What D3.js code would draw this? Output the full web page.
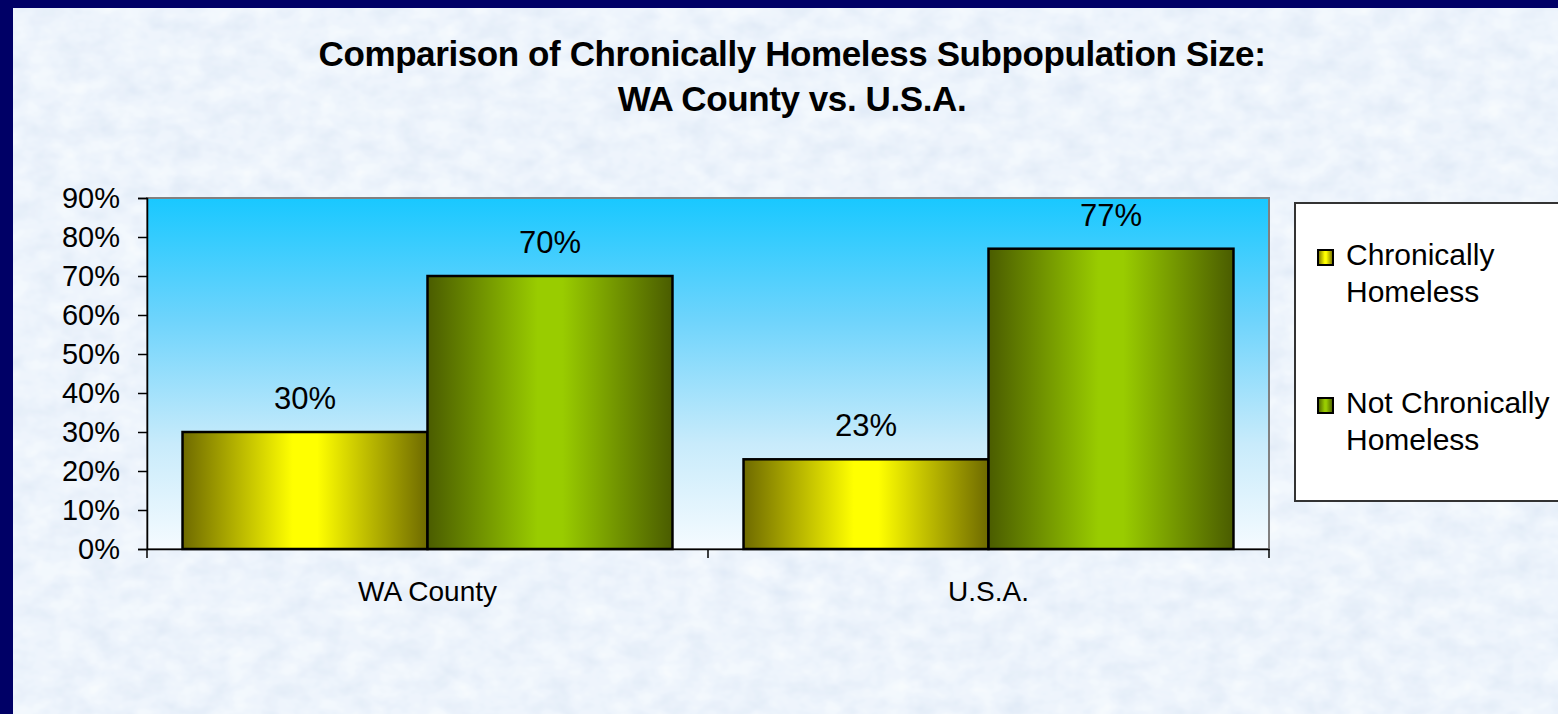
<!DOCTYPE html>
<html>
<head>
<meta charset="utf-8">
<script src="https://cdn.jsdelivr.net/npm/d3@7"></script>
<style>
  html, body { margin: 0; padding: 0; overflow: hidden; background: #000066; }
  text { font-family: Arial, "Liberation Sans", sans-serif; fill: #000; }
</style>
</head>
<body>
<div id="chart"></div>
<script>
'use strict';

// data
const categories = ['WA County', 'U.S.A.'];
const seriesNames = ['Chronically Homeless', 'Not Chronically Homeless'];
const chronic = [0.30, 0.23];
const notChronic = [0.70, 0.77];
const yTicks = [0, 0.1, 0.2, 0.3, 0.4, 0.5, 0.6, 0.7, 0.8, 0.9];
const titleLines = ['Comparison of Chronically Homeless Subpopulation Size:', 'WA County vs. U.S.A.'];
const legendLines = [['Chronically', 'Homeless'], ['Not Chronically', 'Homeless']];

const width = 1558, height = 714,
    plot = {left: 147, right: 1269, top: 198, bottom: 549},
    fmt = d3.format('.0%');

const svg = d3.select('#chart').append('svg')
    .attr('width', width)
    .attr('height', height);

const defs = svg.append('defs');

// marbled slide background
const tex = defs.append('filter').attr('id', 'marble')
    .attr('x', 0).attr('y', 0).attr('width', 1).attr('height', 1);
tex.append('feTurbulence')
    .attr('type', 'fractalNoise')
    .attr('baseFrequency', '0.035 0.05')
    .attr('numOctaves', 3)
    .attr('seed', 7)
    .attr('result', 'noise');
tex.append('feColorMatrix')
    .attr('in', 'noise')
    .attr('type', 'matrix')
    .attr('values', '0 0 0 -0.26 1.0  0 0 0 -0.2 1.02  0 0 0 -0.1 1.03  0 0 0 0 1');

function hGrad(id, edge, mid) {
    const g = defs.append('linearGradient').attr('id', id)
        .attr('x1', 0).attr('x2', 1).attr('y1', 0).attr('y2', 0);
    [[0, edge], [0.45, mid], [0.55, mid], [1, edge]].forEach(([o, c]) => {
        g.append('stop').attr('offset', o).attr('stop-color', c);
    });
}
hGrad('gradYellow', '#6e6a00', '#ffff00');
hGrad('gradGreen', '#4a5c00', '#99cc00');

const plotGrad = defs.append('linearGradient').attr('id', 'plotBg')
    .attr('x1', 0).attr('x2', 0).attr('y1', 0).attr('y2', 1);
[[0, '#19c8ff'], [0.35, '#6fd4fc'], [0.7, '#c8ebfb'], [1, '#f5fbff']].forEach(([o, c]) => {
    plotGrad.append('stop').attr('offset', o).attr('stop-color', c);
});

svg.append('rect')
    .attr('x', 0).attr('y', 0).attr('width', width).attr('height', height)
    .attr('fill', '#000066');
svg.append('rect')
    .attr('x', 13).attr('y', 8).attr('width', width - 13).attr('height', height - 8)
    .attr('fill', '#e2ecf8');
svg.append('rect')
    .attr('x', 13).attr('y', 8).attr('width', width - 13).attr('height', height - 8)
    .attr('filter', 'url(#marble)')
    .attr('opacity', 0.8);

// title
const title = svg.append('text')
    .attr('x', 792)
    .attr('text-anchor', 'middle')
    .style('font-weight', 'bold')
    .style('font-size', '35px')
    .style('letter-spacing', '-0.4px');
titleLines.forEach((t, i) => {
    title.append('tspan').attr('x', 792).attr('y', 66 + i * 45).text(t);
});

// scales
const x0 = d3.scaleBand()
    .domain(categories)
    .range([plot.left, plot.right])
    .padding(0);

const x1 = d3.scaleBand()
    .domain(seriesNames)
    .range([0, x0.bandwidth()])
    .paddingInner(0)
    .paddingOuter(0.145);

const y = d3.scaleLinear()
    .domain([0, 0.9])
    .range([plot.bottom, plot.top]);

// plot area
svg.append('rect')
    .attr('x', plot.left).attr('y', plot.top)
    .attr('width', plot.right - plot.left).attr('height', plot.bottom - plot.top)
    .attr('fill', 'url(#plotBg)')
    .attr('stroke', '#808080')
    .attr('stroke-width', 2);

// bars
const rows = categories.map((c, i) => ({cat: c, vals: [chronic[i], notChronic[i]]}));
const fills = ['url(#gradYellow)', 'url(#gradGreen)'];

const groups = svg.append('g').selectAll('g')
    .data(rows).enter().append('g')
    .attr('transform', d => `translate(${x0(d.cat)},0)`);

groups.selectAll('rect')
    .data(d => d.vals.map((v, j) => ({name: seriesNames[j], v: v, j: j})))
    .enter().append('rect')
    .attr('x', d => x1(d.name))
    .attr('y', d => y(d.v))
    .attr('width', x1.bandwidth())
    .attr('height', d => y(0) - y(d.v))
    .attr('fill', d => fills[d.j])
    .attr('stroke', '#000')
    .attr('stroke-width', 2.5);

groups.selectAll('text')
    .data(d => d.vals.map((v, j) => ({name: seriesNames[j], v: v})))
    .enter().append('text')
    .attr('x', d => x1(d.name) + x1.bandwidth() / 2)
    .attr('y', d => y(d.v) - 23)
    .attr('text-anchor', 'middle')
    .style('font-size', '31px')
    .text(d => fmt(d.v));

// y axis
const yAxis = d3.axisLeft(y)
    .tickValues(yTicks)
    .tickFormat(fmt)
    .tickSize(9)
    .tickPadding(18);

const yG = svg.append('g')
    .attr('transform', `translate(${plot.left},0)`)
    .call(yAxis);
yG.select('.domain').attr('stroke', '#000').attr('stroke-width', 1.5);
yG.selectAll('.tick line').attr('stroke', '#000').attr('stroke-width', 1.5);
yG.selectAll('.tick text')
    .style('font-size', '29px')
    .style('font-family', 'Arial, "Liberation Sans", sans-serif')
    .attr('fill', '#000');

// x axis
const xAxis = d3.axisBottom(x0)
    .tickSize(0)
    .tickPadding(32);

const xG = svg.append('g')
    .attr('transform', `translate(0,${plot.bottom})`)
    .call(xAxis);
xG.select('.domain').attr('stroke', '#000').attr('stroke-width', 1.5);
xG.selectAll('.tick text')
    .style('font-size', '28px')
    .style('font-family', 'Arial, "Liberation Sans", sans-serif')
    .attr('fill', '#000');

// category separators below the axis
const seps = [plot.left].concat(categories.map(c => x0(c) + x0.bandwidth()));
xG.selectAll('.sep')
    .data(seps).enter().append('line')
    .attr('class', 'sep')
    .attr('x1', d => d).attr('x2', d => d)
    .attr('y1', 0).attr('y2', 9)
    .attr('stroke', '#000')
    .attr('stroke-width', 1.5);

// legend
const legend = svg.append('g');
legend.append('rect')
    .attr('x', 1295).attr('y', 203)
    .attr('width', 300).attr('height', 298)
    .attr('fill', '#fff')
    .attr('stroke', '#333')
    .attr('stroke-width', 2);

const items = legend.selectAll('.item')
    .data(seriesNames).enter().append('g')
    .attr('class', 'item')
    .attr('transform', (d, i) => `translate(1318,${250 + i * 148})`);

items.append('rect')
    .attr('width', 15).attr('height', 15)
    .attr('fill', (d, i) => fills[i])
    .attr('stroke', '#000')
    .attr('stroke-width', 2);

items.each(function(d, i) {
    const t = d3.select(this).append('text')
        .style('font-size', '30px');
    legendLines[i].forEach((line, k) => {
        t.append('tspan').attr('x', 28).attr('y', 15 + k * 37).text(line);
    });
});
</script>
</body>
</html>
